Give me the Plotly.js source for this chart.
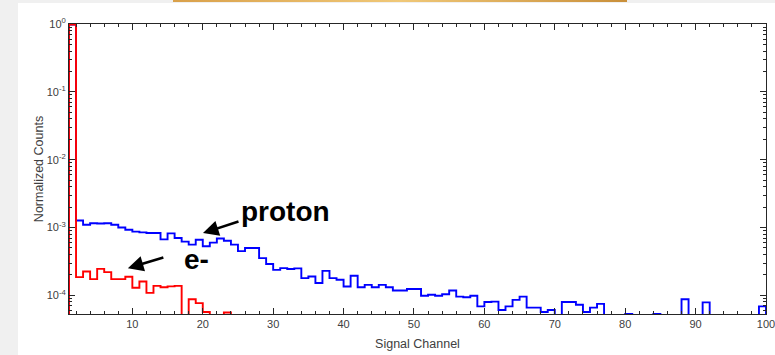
<!DOCTYPE html>
<html>
<head>
<meta charset="utf-8">
<script src="https://cdn.plot.ly/plotly-3.0.1.min.js"></script>
<style>
  html, body { margin: 0; padding: 0; width: 775px; height: 355px; overflow: hidden; background: #f0f0f0; }
  #sheet { position: absolute; left: 18px; top: 3px; width: 757px; height: 352px; background: #ffffff; }
  #bar { position: absolute; left: 173px; top: 0; width: 454px; height: 2px; background: linear-gradient(90deg, #d9a04a, #f0c878 50%, #c98f3a); }
  #chart { position: absolute; left: 0; top: 0; width: 775px; height: 355px; }
</style>
</head>
<body>
<div id="sheet"></div>
<div id="bar"></div>
<div id="chart"></div>
<script>
// Bin start channels (each bin is 1 channel wide)
const binStart = [1,2,3,4,5,6,7,8,9,10,11,12,13,14,15,16,17,18,19,20,
  21,22,23,24,25,26,27,28,29,30,31,32,33,34,35,36,37,38,39,40,
  41,42,43,44,45,46,47,48,49,50,51,52,53,54,55,56,57,58,59,60,
  61,62,63,64,65,66,67,68,69,70,71,72,73,74,75,76,77,78,79,80,
  81,82,83,84,85,86,87,88,89,90,91,92,93,94,95,96,97,98,99];

// Normalized counts, proton (blue)
const protonCounts = [0.98,1.27e-3,1.10e-3,1.16e-3,1.15e-3,1.16e-3,1.10e-3,1.00e-3,0.93e-3,0.87e-3,
  0.85e-3,0.83e-3,0.83e-3,0.67e-3,0.82e-3,0.70e-3,0.62e-3,0.56e-3,0.66e-3,0.53e-3,
  0.60e-3,0.69e-3,0.64e-3,0.56e-3,0.45e-3,0.50e-3,0.50e-3,0.354e-3,0.29e-3,0.238e-3,
  0.252e-3,0.245e-3,0.25e-3,0.18e-3,0.19e-3,0.152e-3,0.23e-3,0.18e-3,0.17e-3,0.135e-3,
  0.195e-3,0.132e-3,0.143e-3,0.132e-3,0.143e-3,0.132e-3,0.118e-3,0.118e-3,0.124e-3,0.124e-3,
  0.099e-3,0.102e-3,0.099e-3,0.104e-3,0.118e-3,0.096e-3,0.094e-3,0.099e-3,0.069e-3,0.080e-3,
  0.081e-3,0.061e-3,0.069e-3,0.086e-3,0.096e-3,0.066e-3,0.066e-3,0.057e-3,0.061e-3,0,
  0.080e-3,0.080e-3,0.073e-3,0.057e-3,0.066e-3,0.075e-3,0,0,0,0.0535e-3,
  0,0,0,0.0535e-3,0,0,0,0.088e-3,0,0,
  0.079e-3,0,0,0,0,0,0,0,0.069e-3];

// Normalized counts, electron (red)
const electronCounts = [0.98,0.186e-3,0.225e-3,0.174e-3,0.246e-3,0.22e-3,0.174e-3,0.174e-3,0.188e-3,0.13e-3,
  0.16e-3,0.109e-3,0.138e-3,0.132e-3,0.136e-3,0.138e-3,0,0.088e-3,0.077e-3,0.057e-3,
  0,0,0.056e-3,0];

// Tick labels
const yTickVals = [1e-4, 1e-3, 1e-2, 1e-1, 1];
const yTickText = ['10<sup>-4</sup>','10<sup>-3</sup>','10<sup>-2</sup>','10<sup>-1</sup>','10<sup>0</sup>'];
const xTickVals = [10,20,30,40,50,60,70,80,90,100];
const xTickText = ['10','20','30','40','50','60','70','80','90','100'];

const FLOOR = 1e-8; // empty bins drawn below the visible range

function stairs(starts, vals) {
  const n = vals.length;
  const x = [starts[0]], y = [FLOOR];
  for (let i = 0; i < n; i++) { x.push(starts[i]); y.push(vals[i] > 0 ? vals[i] : FLOOR); }
  const end = starts[n - 1] + 1;
  x.push(end); y.push(vals[n - 1] > 0 ? vals[n - 1] : FLOOR);
  x.push(end); y.push(FLOOR);
  return {x, y};
}

const p = stairs(binStart, protonCounts);
const e = stairs(binStart.slice(0, electronCounts.length), electronCounts);

const yMinor = [];
for (let d = -5; d <= -1; d++) for (let k = 2; k <= 9; k++) yMinor.push(k * Math.pow(10, d));

const traces = [
  {x: p.x, y: p.y, type: 'scatter', mode: 'lines', line: {shape: 'hv', color: '#0000ff', width: 1.9}, hoverinfo: 'skip'},
  {x: e.x, y: e.y, type: 'scatter', mode: 'lines', line: {shape: 'hv', color: '#ff0000', width: 1.9}, hoverinfo: 'skip'}
];

const axColor = '#262626';
const layout = {
  width: 775, height: 355,
  margin: {l: 69, r: 9, t: 24, b: 41, pad: 0},
  paper_bgcolor: 'rgba(0,0,0,0)',
  plot_bgcolor: '#ffffff',
  showlegend: false,
  font: {family: '"Liberation Sans", Arial, sans-serif', size: 11, color: '#404040'},
  xaxis: {
    range: [1, 100], autorange: false,
    tickmode: 'array', tickvals: xTickVals, ticktext: xTickText,
    ticklabeloverflow: 'allow',
    ticks: 'inside', ticklen: 6, tickwidth: 1, tickcolor: axColor,
    minor: {ticks: 'inside', ticklen: 3, tickwidth: 1, tickcolor: axColor, tickmode: 'linear', tick0: 0, dtick: 2},
    showline: true, linecolor: axColor, linewidth: 1, mirror: 'allticks',
    showgrid: false, zeroline: false,
    tickfont: {size: 11, color: '#404040'},
    title: {text: 'Signal Channel', font: {size: 12.5, color: '#404040'}, standoff: 10}
  },
  yaxis: {
    type: 'log', range: [-4.274, 0], autorange: false,
    tickmode: 'array', tickvals: yTickVals, ticktext: yTickText,
    ticks: 'inside', ticklen: 6, tickwidth: 1, tickcolor: axColor,
    minor: {ticks: 'inside', ticklen: 3, tickwidth: 1, tickcolor: axColor, tickmode: 'array', tickvals: yMinor},
    showline: true, linecolor: axColor, linewidth: 1, mirror: 'allticks',
    showgrid: false, zeroline: false,
    tickfont: {size: 11, color: '#404040'},
    title: {text: 'Normalized Counts', font: {size: 12.5, color: '#404040'}, standoff: 0}
  },
  annotations: [
    {x: 20.03, y: -3.082, xref: 'x', yref: 'y', text: '', showarrow: true,
     ax: 37, ay: -12, axref: 'pixel', ayref: 'pixel',
     arrowhead: 2, arrowsize: 1.2, arrowwidth: 2.6, arrowcolor: '#000000', standoff: 0},
    {x: 9.36, y: -3.598, xref: 'x', yref: 'y', text: '', showarrow: true,
     ax: 37, ay: -11, axref: 'pixel', ayref: 'pixel',
     arrowhead: 2, arrowsize: 1.2, arrowwidth: 2.6, arrowcolor: '#000000', standoff: 0},
    {x: 31.8, y: -2.769, xref: 'x', yref: 'y', text: '<b>proton</b>', showarrow: false,
     xanchor: 'center', yanchor: 'middle',
     font: {family: '"Liberation Sans", Arial, sans-serif', size: 28, color: '#000000'}},
    {x: 19.07, y: -3.465, xref: 'x', yref: 'y', text: '<b>e-</b>', showarrow: false,
     xanchor: 'center', yanchor: 'middle',
     font: {family: '"Liberation Sans", Arial, sans-serif', size: 28, color: '#000000'}}
  ]
};

Plotly.newPlot('chart', traces, layout, {staticPlot: true, displayModeBar: false});
</script>
</body>
</html>
